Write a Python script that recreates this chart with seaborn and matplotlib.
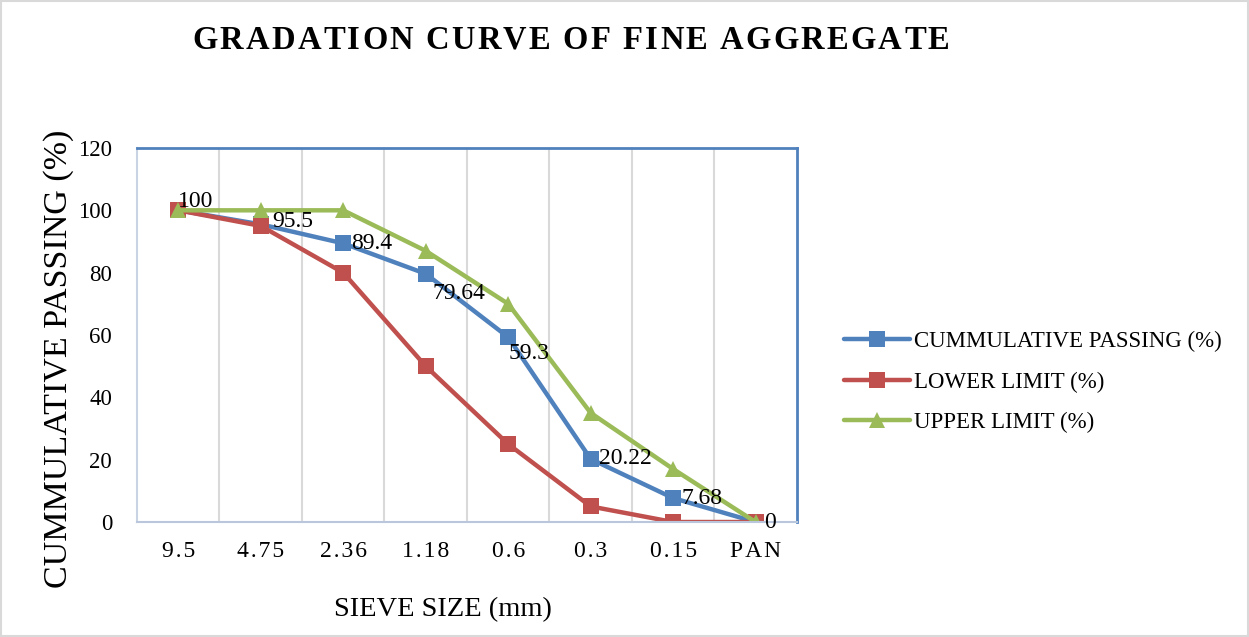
import matplotlib
matplotlib.use("Agg")
import matplotlib.pyplot as plt
import seaborn as sns
import pandas as pd
from matplotlib.patches import Rectangle

sieve_sizes = ["9.5", "4.75", "2.36", "1.18", "0.6", "0.3", "0.15", "PAN"]
cumulative_passing = [100, 95.5, 89.4, 79.64, 59.3, 20.22, 7.68, 0]
lower_limit = [100, 95, 80, 50, 25, 5, 0, 0]
upper_limit = [100, 100, 100, 87, 70, 35, 17, 0]
series_names = ["CUMMULATIVE PASSING (%)", "LOWER LIMIT (%)", "UPPER LIMIT (%)"]
y_ticks = [0, 20, 40, 60, 80, 100, 120]
title = "GRADATION CURVE OF FINE AGGREGATE"

sns.set_theme(style="white")
plt.rcParams["font.family"] = ["Liberation Serif", "DejaVu Serif"]
plt.rcParams["text.color"] = "black"
plt.rcParams["axes.labelcolor"] = "black"
plt.rcParams["xtick.color"] = "black"
plt.rcParams["ytick.color"] = "black"

df = pd.DataFrame({
    "sieve": sieve_sizes * 3,
    "value": cumulative_passing + lower_limit + upper_limit,
    "series": sum([[n] * len(sieve_sizes) for n in series_names], []),
})

colors = {series_names[0]: "#4F81BD", series_names[1]: "#C0504D", series_names[2]: "#9BBB59"}
markers = {series_names[0]: "s", series_names[1]: "s", series_names[2]: "^"}

fig = plt.figure(figsize=(12.49, 6.37), dpi=100)
ax = fig.add_axes([0.1097, 0.1805, 0.5283, 0.5872])

sns.lineplot(data=df, x="sieve", y="value", hue="series", style="series",
             markers=markers, dashes=False, palette=colors, linewidth=3.2,
             markersize=11.5, markeredgewidth=0, sort=False, ax=ax)

# data labels for cumulative passing
special = {0: (0, 6), 1: (8, 2), 3: (5, -14), 4: (0, -12)}
for i, v in enumerate(cumulative_passing):
    dx, dy = special.get(i, (6, 0))
    ax.annotate(f"{v:g}", (i, v), xytext=(dx, dy), textcoords="offset points",
                ha="left", va="center", fontsize=17, color="black")

ax.set_xlim(-0.5, len(sieve_sizes) - 0.5)
ax.set_ylim(0, 120)
ax.set_yticks(y_ticks)
ax.set_yticklabels([str(t) for t in y_ticks], fontsize=16.5)
ax.set_xticks(range(len(sieve_sizes)))
ax.set_xticklabels(["\u200a".join(s) for s in sieve_sizes], fontsize=17)
ax.set_xticks([i + 0.5 for i in range(len(sieve_sizes) - 1)], minor=True)
ax.grid(False)
ax.grid(True, which="minor", axis="x", color="#D9D9D9", linewidth=1.5)
ax.tick_params(axis="both", which="both", length=0)
ax.tick_params(axis="y", pad=18)
ax.tick_params(axis="x", pad=14)

for side in ["top", "right"]:
    ax.spines[side].set_color("#4F81BD")
    ax.spines[side].set_linewidth(2)
ax.spines["left"].set_color("#C9D3E3")
ax.spines["left"].set_linewidth(1.5)
ax.spines["bottom"].set_color("#B9C6DB")
ax.spines["bottom"].set_linewidth(1.5)

ax.set_xlabel("SIEVE SIZE (mm)", fontsize=20.5)
ax.xaxis.set_label_coords(0.464, -0.2)
ax.set_ylabel("CUMMULATIVE PASSING (%)", fontsize=24.5)
ax.yaxis.set_label_coords(-0.096, 0.436)

handles, labels = ax.get_legend_handles_labels()
ax.legend(handles, labels, loc="center left", bbox_to_anchor=(0.659, 0.40),
          bbox_transform=fig.transFigure, frameon=False, fontsize=16.5,
          handlelength=2.9, labelspacing=0.85, handletextpad=0.15)

# letter-spaced bold title
renderer = fig.canvas.get_renderer()
tracking = 2.2  # px between letters
fs = 23.5
widths = []
objs = []
for ch in title:
    t = fig.text(0, 0.937, ch, fontsize=fs, fontweight="bold", va="center", ha="left")
    bb = t.get_window_extent(renderer=renderer)
    w = bb.width if ch != " " else fs * 100 / 72 * 0.25
    widths.append(w)
    objs.append(t)
total = sum(widths) + tracking * (len(title) - 1)
x0 = 571 - total / 2
W = fig.get_figwidth() * fig.dpi
for t, w in zip(objs, widths):
    t.set_x(x0 / W)
    x0 += w + tracking

fig.patches.append(Rectangle((0.001, 0.002), 0.998, 0.996, transform=fig.transFigure,
                             fill=False, edgecolor="#D9D9D9", linewidth=1.5))

fig.savefig("out.png", dpi=100)
